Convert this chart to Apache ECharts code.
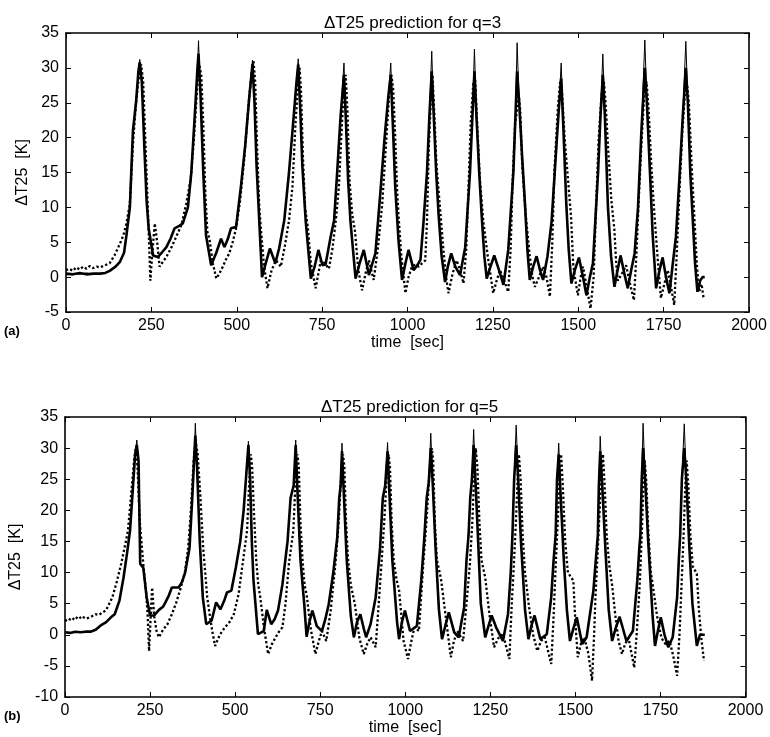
<!DOCTYPE html>
<html>
<head>
<meta charset="utf-8">
<script src="https://cdn.jsdelivr.net/npm/echarts@6/dist/echarts.min.js"></script>
<style>
  html, body { margin: 0; padding: 0; background: #fff; }
  #main { width: 770px; height: 737px; }
</style>
</head>
<body>
<div id="main"></div>
<script>
// time axis ticks
const timeTicks = [0, 250, 500, 750, 1000, 1250, 1500, 1750, 2000];

// (a) q=3 : thick = prediction, thin = measured, dotted = second prediction
const predA = [[0,0.5],[20,0.4],[40,0.6],[60,0.4],[80,0.5],[100,0.5],[115,0.6],[128,0.9],[145,1.5],[158,2.2],[170,3.5],[177,6],[187,10],[196,21],[205,25],[212,29.5],[216,30.8],[222,28],[230,18],[236,11],[242,7],[255,3.1],[269,2.9],[282,3.6],[294,4.3],[306,5.5],[318,7],[330,7.3],[342,7.7],[357,10],[367,15],[378,24],[385,30],[388,32],[394,26],[402,15],[410,6],[425,1.7],[440,3.5],[454,5.5],[464,4.3],[474,5.5],[483,7],[498,7.2],[512,12.9],[525,19],[537,26],[546,30.5],[552,25],[558,16],[566,8],[574,0],[585,2],[597,4.1],[613,2],[624,4.1],[639,8.1],[653,15],[665,22],[675,28],[680,30.5],[686,24],[692,16],[702,8],[717,-0.2],[728,1.5],[739,3.9],[751,1.7],[760,1.8],[775,5.8],[785,8.1],[794,15],[804,23],[814,29],[820,22],[826,14],[833,8],[848,-0.2],[860,2],[872,3.9],[887,0.3],[906,3.4],[921,12.4],[933,20],[944,26],[951,29],[957,22],[964,13],[974,5],[984,-0.4],[994,2],[1003,3.9],[1018,1],[1030,1.8],[1038,2.5],[1047,8],[1057,15],[1064,23],[1071,29.5],[1077,23],[1084,15],[1091,9],[1100,3],[1110,-0.7],[1118,1.5],[1128,3.4],[1140,1.5],[1154,0.3],[1169,4.3],[1183,15],[1190,23],[1196,29.5],[1202,23],[1210,15],[1217,9],[1225,3],[1232,-0.2],[1243,1.5],[1254,3.1],[1268,1],[1281,-1.1],[1295,3.9],[1310,15],[1316,23],[1321,29.5],[1327,25],[1336,17],[1344,10.5],[1351,4],[1358,-0.4],[1368,1.5],[1378,3],[1388,1],[1397,-0.4],[1410,3],[1422,8],[1435,18],[1443,24],[1450,28.5],[1456,22],[1465,10.5],[1472,4],[1480,-0.9],[1490,1],[1502,2.8],[1514,0],[1524,-2.6],[1534,0],[1543,2],[1558,15],[1565,23],[1572,29],[1578,23],[1587,10],[1596,3],[1606,-1.4],[1615,1],[1624,3.1],[1635,0.5],[1645,-1.6],[1655,1],[1665,3.4],[1675,10],[1685,21],[1695,30],[1701,25],[1710,15],[1718,6],[1728,-1.6],[1738,1],[1747,2.8],[1757,0],[1767,-2.3],[1777,2],[1786,5.8],[1796,14],[1806,23],[1815,30],[1821,25],[1828,15],[1835,8.6],[1842,2],[1849,-2.1],[1857,-0.5],[1864,0],[1870,0]];

const measA = [[0,0.3],[20,0.5],[40,0.4],[60,0.6],[80,0.4],[100,0.5],[115,0.6],[128,0.9],[145,1.5],[158,2.2],[170,3.5],[177,6],[187,10],[196,21],[205,25],[212,29.5],[216,31.2],[222,28],[230,18],[236,11],[242,7],[255,3.1],[269,2.9],[282,3.6],[294,4.3],[306,5.5],[318,7],[330,7.3],[342,7.7],[357,10],[367,15],[378,24],[385,30],[388,33.9],[394,26],[402,15],[410,6],[425,1.7],[440,3.5],[454,5.5],[464,4.3],[474,5.5],[483,7],[498,7.2],[512,12.9],[525,19],[537,26],[546,31.1],[552,25],[558,16],[566,8],[574,0],[585,2],[597,4.1],[613,2],[624,4.1],[639,8.1],[653,15],[665,22],[675,28],[680,31.3],[686,24],[692,16],[702,8],[717,-0.2],[728,1.5],[739,3.9],[751,1.7],[760,1.8],[775,5.8],[785,8.1],[794,15],[804,23],[814,30.7],[820,22],[826,14],[833,8],[848,-0.2],[860,2],[872,3.9],[887,0.3],[906,3.4],[921,12.4],[933,20],[944,26],[951,30.7],[957,22],[964,13],[974,5],[984,-0.4],[994,2],[1003,3.9],[1018,1],[1030,1.8],[1038,2.5],[1047,8],[1057,15],[1064,23],[1071,32.4],[1077,23],[1084,15],[1091,9],[1100,3],[1110,-0.7],[1118,1.5],[1128,3.4],[1140,1.5],[1154,0.3],[1169,4.3],[1183,15],[1190,23],[1196,32.7],[1202,23],[1210,15],[1217,9],[1225,3],[1232,-0.2],[1243,1.5],[1254,3.1],[1268,1],[1281,-1.1],[1295,3.9],[1310,15],[1316,23],[1321,33.6],[1327,25],[1336,17],[1344,10.5],[1351,4],[1358,-0.4],[1368,1.5],[1378,3],[1388,1],[1397,-0.4],[1410,3],[1422,8],[1435,18],[1443,24],[1450,30.7],[1456,22],[1465,10.5],[1472,4],[1480,-0.9],[1490,1],[1502,2.8],[1514,0],[1524,-2.6],[1534,0],[1543,2],[1558,15],[1565,23],[1572,32],[1578,23],[1587,10],[1596,3],[1606,-1.4],[1615,1],[1624,3.1],[1635,0.5],[1645,-1.6],[1655,1],[1665,3.4],[1675,10],[1685,21],[1695,34],[1701,25],[1710,15],[1718,6],[1728,-1.6],[1738,1],[1747,2.8],[1757,0],[1767,-2.3],[1777,2],[1786,5.8],[1796,14],[1806,23],[1815,33.8],[1821,25],[1828,15],[1835,8.6],[1842,2],[1849,-2.1],[1857,-0.5],[1864,0],[1870,0]];

const dotA = [[0,1],[10,1.2],[20,0.9],[30,1.4],[40,1.1],[50,1.5],[60,1.2],[70,1.6],[80,1.3],[90,1.5],[100,1.4],[110,1.6],[128,2],[143,3.2],[158,4.8],[168,6],[177,7.7],[187,10.5],[196,19],[205,25],[214,29],[220,30.5],[226,28],[232,20],[238,12],[244,4],[247,-0.5],[252,3],[260,7.7],[267,5],[274,1.5],[284,2.2],[294,2.9],[308,4.2],[323,5.8],[338,7.5],[352,10.5],[365,14],[375,20],[384,27],[390,30.5],[396,29],[402,22],[408,12],[414,6.5],[420,5.5],[430,2],[440,-0.2],[449,0.5],[459,1.5],[468,2.5],[478,3.4],[488,5],[498,7],[510,11],[522,17],[535,25],[544,29.5],[549,31],[554,28],[560,18],[566,10],[571,6.7],[580,1.5],[590,-1.6],[602,1],[615,2.4],[629,1.5],[641,4.5],[653,8.1],[663,12.9],[672,22],[680,28],[684,30],[688,27],[694,17],[700,10],[708,7.2],[717,2],[731,-1.6],[746,2.4],[758,2],[770,1.2],[780,4],[790,8.1],[799,12.9],[808,22],[814,27],[819,29],[824,24],[830,14],[838,9],[846,6.7],[856,1],[867,-1.9],[877,0.5],[887,2.4],[901,-0.4],[913,4],[926,10.5],[937,19],[946,26],[953,29],[958,27],[964,20],[970,12],[974,8.6],[982,3],[994,-2.3],[1003,0],[1013,1.5],[1023,1.8],[1033,1.5],[1043,2],[1052,2.4],[1057,8],[1062,18],[1068,25],[1073,29],[1078,24],[1085,16],[1095,10],[1105,4],[1113,0],[1120,-2.3],[1132,0.5],[1144,2.4],[1154,1],[1164,-0.9],[1172,4],[1178,12],[1185,22],[1193,28],[1198,28.5],[1204,22],[1212,14],[1222,8],[1235,3],[1244,0],[1251,-2.3],[1261,-0.5],[1271,1],[1283,-0.5],[1295,-2.1],[1302,4],[1308,14],[1315,22],[1321,24],[1326,26],[1330,24],[1336,16],[1346,9],[1358,3],[1366,0],[1373,-1.4],[1385,0],[1397,1.5],[1407,0],[1417,-2.8],[1424,5],[1430,15],[1440,24],[1447,28],[1452,27],[1460,20],[1470,14],[1479,8.6],[1485,2],[1490,0],[1499,-2.6],[1507,0],[1514,1.5],[1525,-1.5],[1536,-4.5],[1545,0],[1552,10],[1560,20],[1568,26],[1575,28],[1580,25],[1588,18],[1597,11],[1606,6.7],[1611,2],[1616,-0.5],[1628,0.5],[1640,1.7],[1652,-1],[1663,-3.3],[1670,3],[1678,12],[1686,20],[1693,26],[1700,28],[1706,24],[1714,16],[1723,9],[1732,3],[1742,-3],[1752,-1],[1762,1],[1772,-1.5],[1781,-4],[1788,3],[1796,12],[1805,21],[1812,26],[1818,28],[1824,25],[1832,16],[1840,8.6],[1847,2],[1854,-2.1],[1861,-1],[1867,-3]];

// (b) q=5
const predB = [[0,0.4],[15,0.3],[30,0.5],[45,0.4],[60,0.5],[75,0.5],[90,0.8],[105,1.5],[120,2],[135,2.8],[146,3.3],[160,5.5],[172,9.2],[182,13],[191,16.7],[200,24],[206,29],[211,30.5],[216,28],[221,11.4],[230,10.8],[240,6],[250,3.1],[262,3.1],[276,4],[288,4.5],[295,5.2],[305,6.3],[314,7.6],[334,7.6],[344,8.5],[353,10],[366,14],[374,22],[380,29],[383,32],[388,27],[396,15],[405,6],[415,1.7],[431,2.3],[444,5.2],[457,4.1],[468,5.5],[476,6.8],[489,7.1],[502,10.8],[515,15],[525,20],[533,26],[539,30.5],[544,25],[549,15],[554,8.7],[567,0.1],[584,0.6],[593,4],[606,1.7],[616,2.5],[626,3.9],[639,8.1],[654,15],[663,22],[672,24],[678,30.5],[684,22],[692,12],[703,5],[710,-0.3],[718,2],[727,3.9],[740,1.4],[755,0.6],[765,2.5],[775,4.9],[788,9.8],[800,15.6],[806,22],[810,24],[814,29.5],[820,22],[828,12],[840,3],[849,-0.4],[858,2],[868,3.3],[878,1],[885,-0.4],[898,1.7],[913,6],[926,14],[934,22],[941,24],[948,29.5],[954,22],[962,12],[976,2],[982,-0.7],[990,2],[999,3.9],[1014,0.6],[1024,1],[1034,1.4],[1047,8.7],[1056,15.6],[1063,22],[1069,24.5],[1075,30],[1081,24],[1089,14],[1099,4],[1108,-0.7],[1118,1.5],[1128,3.6],[1144,0.4],[1157,-0.4],[1173,4.4],[1180,12],[1186,16],[1191,22],[1196,25],[1201,30.5],[1207,24],[1215,14],[1222,5],[1235,-0.4],[1245,1.5],[1254,3.1],[1267,1.2],[1287,-1],[1302,3.3],[1310,10],[1315,16],[1320,25],[1326,30.5],[1332,25],[1340,15],[1352,4],[1362,-0.7],[1371,1.5],[1380,3.1],[1397,-0.7],[1416,0.1],[1429,6],[1436,12],[1442,16],[1446,25],[1451,29],[1457,22],[1466,12],[1475,4],[1484,-1],[1494,1],[1504,2.8],[1520,-1.5],[1533,-0.4],[1553,7.1],[1560,12],[1566,16],[1569,24],[1573,29.5],[1579,24],[1588,14],[1598,4],[1608,-1],[1618,1],[1630,2.9],[1650,-1],[1669,0.6],[1682,8.7],[1688,14],[1691,16],[1695,25],[1699,30],[1705,25],[1714,15],[1727,3],[1734,-1.8],[1742,0.5],[1751,2.8],[1762,0],[1773,-2],[1786,-0.4],[1799,6],[1804,12],[1808,16],[1813,25],[1820,30],[1826,25],[1835,14],[1844,5],[1857,-1.8],[1866,0],[1880,0]];

const measB = [[0,0.4],[15,0.3],[30,0.5],[45,0.4],[60,0.5],[75,0.5],[90,0.8],[105,1.5],[120,2],[135,2.8],[146,3.3],[160,5.5],[172,9.2],[182,13],[191,16.7],[200,24],[206,29],[211,31.3],[216,28],[221,11.4],[230,10.8],[240,6],[250,3.1],[262,3.1],[276,4],[288,4.5],[295,5.2],[305,6.3],[314,7.6],[334,7.6],[344,8.5],[353,10],[366,14],[374,22],[380,29],[383,34],[388,27],[396,15],[405,6],[415,1.7],[431,2.3],[444,5.2],[457,4.1],[468,5.5],[476,6.8],[489,7.1],[502,10.8],[515,15],[525,20],[533,26],[539,31.1],[544,25],[549,15],[554,8.7],[567,0.1],[584,0.6],[593,4],[606,1.7],[616,2.5],[626,3.9],[639,8.1],[654,15],[663,22],[672,24],[678,31.3],[684,22],[692,12],[703,5],[710,-0.3],[718,2],[727,3.9],[740,1.4],[755,0.6],[765,2.5],[775,4.9],[788,9.8],[800,15.6],[806,22],[810,24],[814,30.8],[820,22],[828,12],[840,3],[849,-0.4],[858,2],[868,3.3],[878,1],[885,-0.4],[898,1.7],[913,6],[926,14],[934,22],[941,24],[948,30.9],[954,22],[962,12],[976,2],[982,-0.7],[990,2],[999,3.9],[1014,0.6],[1024,1],[1034,1.4],[1047,8.7],[1056,15.6],[1063,22],[1069,24.5],[1075,32.4],[1081,24],[1089,14],[1099,4],[1108,-0.7],[1118,1.5],[1128,3.6],[1144,0.4],[1157,-0.4],[1173,4.4],[1180,12],[1186,16],[1191,22],[1196,25],[1201,33],[1207,24],[1215,14],[1222,5],[1235,-0.4],[1245,1.5],[1254,3.1],[1267,1.2],[1287,-1],[1302,3.3],[1310,10],[1315,16],[1320,25],[1326,33.7],[1332,25],[1340,15],[1352,4],[1362,-0.7],[1371,1.5],[1380,3.1],[1397,-0.7],[1416,0.1],[1429,6],[1436,12],[1442,16],[1446,25],[1451,30.8],[1457,22],[1466,12],[1475,4],[1484,-1],[1494,1],[1504,2.8],[1520,-1.5],[1533,-0.4],[1553,7.1],[1560,12],[1566,16],[1569,24],[1573,31.9],[1579,24],[1588,14],[1598,4],[1608,-1],[1618,1],[1630,2.9],[1650,-1],[1669,0.6],[1682,8.7],[1688,14],[1691,16],[1695,25],[1699,34],[1705,25],[1714,15],[1727,3],[1734,-1.8],[1742,0.5],[1751,2.8],[1762,0],[1773,-2],[1786,-0.4],[1799,6],[1804,12],[1808,16],[1813,25],[1820,33.9],[1826,25],[1835,14],[1844,5],[1857,-1.8],[1866,0],[1880,0]];

const dotB = [[0,2.2],[10,2.6],[20,2.3],[30,2.9],[40,2.5],[50,3],[60,2.6],[68,2.7],[80,3],[90,3.3],[100,3.2],[110,3.6],[120,3.9],[139,6],[152,8.5],[165,11.4],[175,14],[185,16.7],[195,23],[203,28],[208,30],[213,27],[220,18],[230,11.4],[238,7],[243,3],[247,-2.6],[251,2],[256,7.6],[262,3],[269,0.6],[276,-0.4],[288,0.8],[301,1.7],[314,3.3],[327,5.2],[340,7.5],[353,10.3],[362,14],[370,20],[378,28],[384,31],[390,29],[398,22],[406,14],[412,10],[418,6],[425,3.3],[433,0.5],[441,-1.8],[455,0],[470,1.2],[483,2],[496,3.3],[510,6.5],[522,11.4],[535,16.7],[541,24],[546,29],[550,27],[555,20],[562,12],[568,8],[574,6],[585,1],[597,-3.1],[608,-1.5],[619,-0.4],[629,0.5],[639,1.2],[648,5],[658,11.4],[671,16.7],[677,24],[683,29],[687,27],[692,18],[698,12],[704,8],[710,6.5],[722,1],[736,-3.1],[746,-1],[755,0.6],[768,-1],[781,4],[794,11],[803,17],[810,24],[817,29],[821,27],[826,18],[832,12],[840,8],[852,4.9],[865,-0.5],[878,-3.1],[888,-1.5],[898,-0.4],[913,-2],[922,5],[930,11.4],[938,18],[945,25],[951,29],[955,27],[960,18],[966,12],[974,9],[982,7.1],[995,-1],[1008,-3.9],[1018,-1],[1027,1.2],[1040,0.6],[1053,11.4],[1062,18],[1070,25],[1078,30],[1082,28],[1087,18],[1093,12],[1105,9],[1118,3.3],[1134,-3.6],[1143,-1],[1153,0.6],[1170,-1],[1180,5],[1190,11.4],[1197,18],[1203,26],[1207,30],[1212,27],[1218,18],[1224,12],[1235,9.2],[1248,3],[1261,-2],[1274,-0.5],[1287,0.1],[1306,-3.9],[1313,5],[1319,11],[1325,18],[1331,26],[1334,29],[1339,25],[1345,16],[1352,10],[1364,4.4],[1376,0],[1388,-2.6],[1399,-1],[1410,-0.4],[1429,-4.7],[1436,3],[1442,11],[1448,18],[1454,26],[1458,29],[1463,24],[1470,15],[1478,10],[1494,8.7],[1500,2],[1507,-3.6],[1516,-1.5],[1526,-0.4],[1538,-3],[1549,-7.4],[1555,0],[1559,6],[1566,14],[1573,22],[1578,27],[1581,29],[1586,24],[1592,16],[1600,11],[1608,8],[1617,3.3],[1627,-1],[1637,-3.1],[1646,-1.5],[1656,-0.5],[1665,-3],[1673,-5.3],[1680,0],[1689,8],[1695,16],[1700,24],[1704,28],[1708,25],[1715,16],[1722,10],[1730,7],[1740,3],[1753,-0.5],[1765,-1.5],[1777,-1],[1788,-3.5],[1799,-6.6],[1806,0],[1812,8],[1818,16],[1823,24],[1827,28],[1832,24],[1838,16],[1845,11],[1857,9.8],[1863,4],[1870,-0.5],[1878,-4.2]];

const panels = [
  { title: "\u0394T25 prediction for q=3", tag: "(a)", yMin: -5, pred: predA, meas: measA, dot: dotA },
  { title: "\u0394T25 prediction for q=5", tag: "(b)", yMin: -10, pred: predB, meas: measB, dot: dotB }
];

const font = "Liberation Sans, Arial, Helvetica, sans-serif";
const grids = [
  { left: 66, top: 33, width: 683, height: 279 },
  { left: 63.5, top: 417, width: 682, height: 280 }
];

let xAxes = [], yAxes = [], series = [], titles = [], graphics = [];
panels.forEach((p, i) => {
  const line = { onZero: false, lineStyle: { color: "#000", width: 1.6 } };
  const tick = { inside: true, length: 5, lineStyle: { color: "#000", width: 1 } };
  const plain = (v) => String(v);
  xAxes.push({
    gridIndex: i, type: "value", min: 0, max: 2000, interval: 250, position: "bottom",
    axisLine: line, axisTick: tick, splitLine: { show: false },
    axisLabel: { color: "#000", fontSize: 16, fontFamily: font, margin: 6, formatter: plain },
    name: "time  [sec]", nameLocation: "middle", nameGap: 23,
    nameTextStyle: { color: "#000", fontSize: 16, fontFamily: font }
  });
  xAxes.push({
    gridIndex: i, type: "value", min: 0, max: 2000, interval: 250, position: "top",
    axisLine: line, axisTick: tick, axisLabel: { show: false }, splitLine: { show: false }
  });
  yAxes.push({
    gridIndex: i, type: "value", min: p.yMin, max: 35, interval: 5, position: "left",
    axisLine: line, axisTick: tick, splitLine: { show: false },
    axisLabel: { color: "#000", fontSize: 16, fontFamily: font, margin: 7, formatter: plain },
    name: "\u0394T25  [K]", nameLocation: "middle", nameGap: 35,
    nameTextStyle: { color: "#000", fontSize: 16, fontFamily: font }
  });
  yAxes.push({
    gridIndex: i, type: "value", min: p.yMin, max: 35, interval: 5, position: "right",
    axisLine: line, axisTick: tick, axisLabel: { show: false }, splitLine: { show: false }
  });
  const g = grids[i];
  titles.push({
    text: p.title, left: g.left + g.width / 2, top: g.top - 23, textAlign: "center",
    textStyle: { color: "#000", fontSize: 17, fontWeight: "normal", fontFamily: font }
  });
  graphics.push({
    type: "text", left: 4, top: g.top + g.height + 13,
    style: { text: p.tag, fill: "#000", font: "bold 13px " + font }
  });
  const base = { type: "line", xAxisIndex: i * 2, yAxisIndex: i * 2, showSymbol: false, animation: false, silent: true };
  series.push(Object.assign({}, base, { data: p.pred, lineStyle: { color: "#000", width: 2.6 } }));
  series.push(Object.assign({}, base, { data: p.meas, lineStyle: { color: "#000", width: 1 } }));
  series.push(Object.assign({}, base, { data: p.dot, lineStyle: { color: "#000", width: 2.3, type: [2.3, 2.3] } }));
});

const chart = echarts.init(document.getElementById("main"));
chart.setOption({
  backgroundColor: "#fff",
  animation: false,
  title: titles,
  grid: grids,
  xAxis: xAxes,
  yAxis: yAxes,
  series: series,
  graphic: graphics
});
</script>
</body>
</html>
